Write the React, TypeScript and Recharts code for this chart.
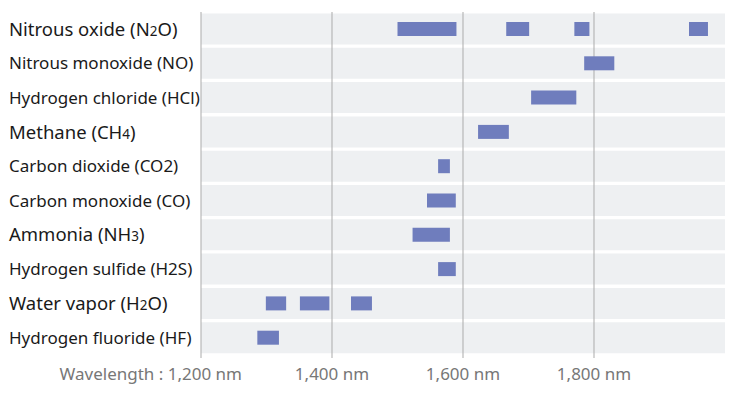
import React from 'react';
import { BarChart, Bar, XAxis, YAxis, ReferenceLine } from 'recharts';

const gases = [
  'Nitrous oxide (N2O)',
  'Nitrous monoxide (NO)',
  'Hydrogen chloride (HCl)',
  'Methane (CH4)',
  'Carbon dioxide (CO2)',
  'Carbon monoxide (CO)',
  'Ammonia (NH3)',
  'Hydrogen sulfide (H2S)',
  'Water vapor (H2O)',
  'Hydrogen fluoride (HF)',
];

// formulas drawn larger with a small digit
const subscriptLabels = ['Nitrous oxide (N2O)', 'Methane (CH4)', 'Ammonia (NH3)', 'Water vapor (H2O)'];

const n2oRanges = [[1500, 1590], [1666, 1701], [1770, 1793], [1945, 1974]];
const noRanges = [[1785, 1831]];
const hclRanges = [[1704, 1773]];
const ch4Ranges = [[1623, 1670]];
const co2Ranges = [[1562, 1580]];
const coRanges = [[1545, 1589]];
const nh3Ranges = [[1523, 1580]];
const h2sRanges = [[1562, 1589]];
const h2oRanges = [[1299, 1330], [1351, 1396], [1429, 1461]];
const hfRanges = [[1286, 1319]];

const allRanges = [n2oRanges, noRanges, hclRanges, ch4Ranges, co2Ranges, coRanges, nh3Ranges, h2sRanges, h2oRanges, hfRanges];

const xDomain = [1200, 2000];
const xTicks = [1200, 1400, 1600, 1800];

const MAX_SEG = 4;

const data = gases.map((name, i) => {
  const row: any = { name, band: xDomain };
  let prev = 0;
  allRanges[i].forEach((r, k) => {
    row['g' + k] = r[0] - prev;
    row['b' + k] = r[1] - r[0];
    prev = r[1];
  });
  return row;
});

const BAR_COLOR = '#6f7dbd';
const BAND_COLOR = '#eef0f2';
const GRID_COLOR = '#ababab';
const FONT = '"Noto Sans", "Open Sans", sans-serif';

const YTick = (props: any) => {
  const { y, payload } = props;
  const label: string = payload.value;
  const big = subscriptLabels.includes(label);
  if (big) {
    const m = label.match(/^(.*\([A-Z]+)(\d)(.*)$/);
    if (m) {
      return (
        <text x={9} y={y} dy={6.5} fontSize={18.5} fill="#1a1a1a" fontFamily={FONT} textAnchor="start">
          {m[1]}
          <tspan fontSize={13.5}>{m[2]}</tspan>
          {m[3]}
        </text>
      );
    }
  }
  return (
    <text x={9} y={y} dy={6} fontSize={17} fill="#1a1a1a" fontFamily={FONT} textAnchor="start">
      {label}
    </text>
  );
};

const XTick = (props: any) => {
  const { x, y, payload, index } = props;
  const v = payload.value.toLocaleString('en-US') + ' nm';
  if (index === 0) {
    return (
      <text x={x + 41} y={y} dy={19.5} fontSize={17} fill="#777" fontFamily={FONT} textAnchor="end">
        {'Wavelength : ' + v}
      </text>
    );
  }
  return (
    <text x={x} y={y} dy={19.5} fontSize={17} fill="#777" fontFamily={FONT} textAnchor="middle">
      {v}
    </text>
  );
};

export default function App() {
  const segs = Array.from({ length: MAX_SEG }, (_, k) => k);
  return (
    <div style={{ position: 'absolute', left: 0, top: 0, width: 730, height: 394, background: '#fff' }}>
      <BarChart
        width={730}
        height={394}
        data={data}
        layout="vertical"
        margin={{ top: 12, right: 5, bottom: 0, left: 0 }}
        barCategoryGap={1.5}
      >
        <XAxis
          type="number"
          domain={xDomain}
          ticks={xTicks}
          allowDataOverflow
          axisLine={false}
          tickLine={{ stroke: GRID_COLOR }}
          tickSize={3}
          height={39}
          tick={<XTick />}
          interval={0}
        />
        <YAxis type="category" dataKey="name" width={201} axisLine={false} tickLine={false} tick={<YTick />} interval={0} />
        <YAxis type="category" dataKey="name" yAxisId="bg" hide />
        <Bar dataKey="band" yAxisId="bg" fill={BAND_COLOR} isAnimationActive={false} zIndex={100} />
        {xTicks.map((t) => (
          <ReferenceLine key={t} x={t} stroke={GRID_COLOR} strokeWidth={1} zIndex={200} />
        ))}
        {segs.flatMap((k) => [
          <Bar key={'g' + k} dataKey={'g' + k} stackId="s" fill="transparent" barSize={14} isAnimationActive={false} zIndex={300} />,
          <Bar key={'b' + k} dataKey={'b' + k} stackId="s" fill={BAR_COLOR} barSize={14} isAnimationActive={false} zIndex={300} />,
        ])}
      </BarChart>
    </div>
  );
}
